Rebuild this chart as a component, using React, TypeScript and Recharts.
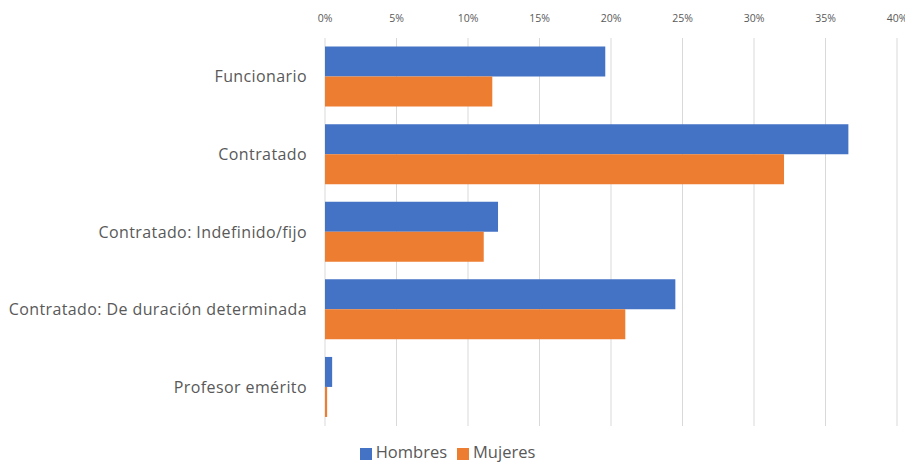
import { BarChart, Bar, XAxis, YAxis, CartesianGrid, Legend } from 'recharts';

const categories = [
  'Funcionario',
  'Contratado',
  'Contratado: Indefinido/fijo',
  'Contratado: De duración determinada',
  'Profesor emérito',
];
const hombres = [19.6, 36.6, 12.1, 24.5, 0.5];
const mujeres = [11.7, 32.1, 11.1, 21.0, 0.15];
const xTicks = [0, 5, 10, 15, 20, 25, 30, 35, 40];

const data = categories.map((name, i) => ({ name, Hombres: hombres[i], Mujeres: mujeres[i] }));

const FONT = '"Open Sans", Lato, sans-serif';

export default function App() {
  return (
    <div style={{ width: 905, height: 455, fontFamily: FONT }}>
      <BarChart
        width={905}
        height={455}
        data={data}
        layout="vertical"
        margin={{ top: 0, right: 16, bottom: 6, left: 0 }}
        barCategoryGap="11%"
        barGap={0}
      >
        <CartesianGrid horizontal={false} stroke="#d9d9d9" />
        <XAxis
          type="number"
          orientation="top"
          domain={[0, 40]}
          ticks={xTicks}
          tickFormatter={(v) => `${v}%`}
          axisLine={false}
          tickLine={false}
          height={30}
          tickMargin={10}
          tick={{ fill: '#595959', fontSize: 10.5, fontFamily: FONT }}
        />
        <YAxis
          type="category"
          dataKey="name"
          width={317}
          axisLine={false}
          tickLine={false}
          tickMargin={12}
          tick={{ fill: '#595959', fontSize: 16, fontFamily: FONT, letterSpacing: 0.4 }}
        />
        <Legend
          verticalAlign="bottom"
          iconType="square"
          iconSize={12}
          wrapperStyle={{ fontSize: 16.5, color: '#595959', fontFamily: FONT, paddingTop: 8, bottom: 0 }}
          formatter={(value) => <span style={{ color: '#595959' }}>{value}</span>}
        />
        <Bar dataKey="Hombres" fill="#4472c4" isAnimationActive={false} />
        <Bar dataKey="Mujeres" fill="#ed7d31" isAnimationActive={false} />
      </BarChart>
    </div>
  );
}
